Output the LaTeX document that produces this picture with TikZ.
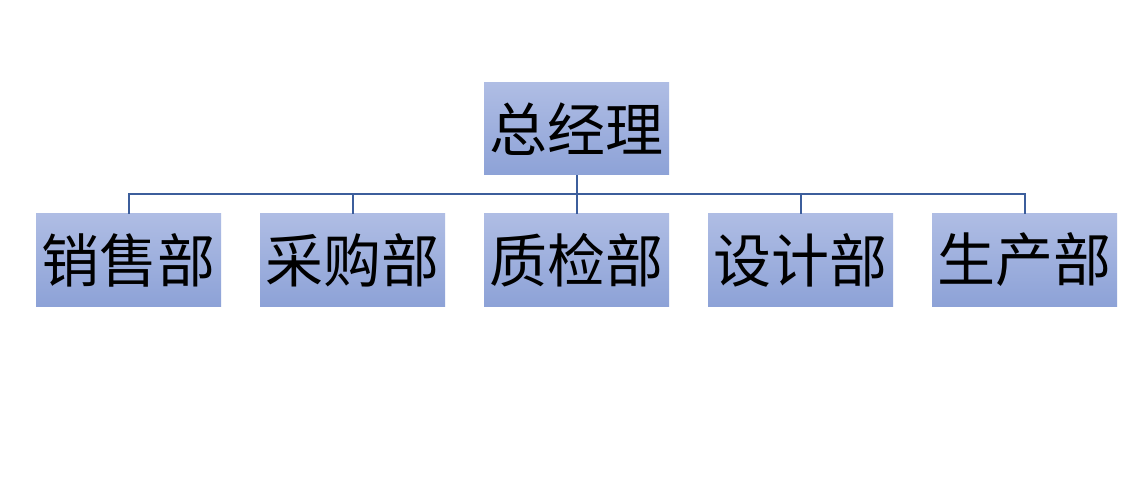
\documentclass[tikz,border=0pt]{standalone}
\usepackage{fontspec}
\newfontfamily\cjk{Noto Sans CJK SC}
\definecolor{boxtop}{HTML}{AFBDE4}
\definecolor{boxbot}{HTML}{8DA2D7}
\definecolor{linec}{HTML}{3C5E9C}
\begin{document}
\begin{tikzpicture}[x=1pt,y=-1pt,
  orgbox/.style={minimum width=185pt,minimum height=92pt,inner sep=0pt,
    top color=boxtop,bottom color=boxbot,draw=none,
    font=\cjk\fontsize{58}{62}\selectfont,text=black},
  conn/.style={draw=linec,line width=2pt}]
\useasboundingbox[fill=white] (0,0) rectangle (1132,486);
\node[orgbox] (gm) at (576.5,129) {总经理};
\node[orgbox] (d1) at (128.5,260) {销售部};
\node[orgbox] (d2) at (352.5,260) {采购部};
\node[orgbox] (d3) at (576.5,260) {质检部};
\node[orgbox] (d4) at (800.5,260) {设计部};
\node[orgbox] (d5) at (1024.5,260) {生产部};
\coordinate (bus) at (576.5,194.5);
\draw[conn] (gm.south) -- (bus);
\foreach \d in {d1,d2,d3,d4,d5}{
  \draw[conn] (bus) -| (\d.north);
}
\end{tikzpicture}
\end{document}
